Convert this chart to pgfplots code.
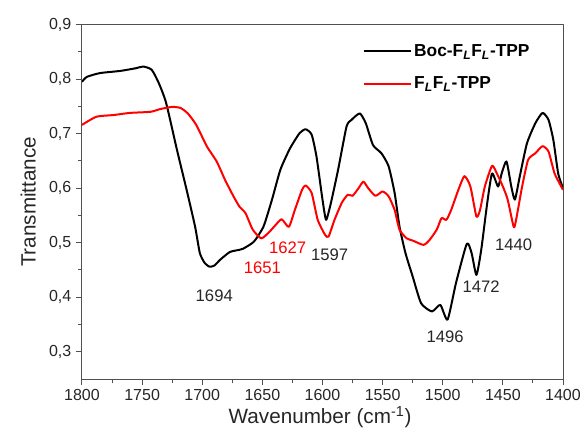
\documentclass[border=0pt]{standalone}
\usepackage{fontspec}
\setmainfont{Liberation Sans}
\usepackage{pgfplots}
\pgfplotsset{compat=1.18}
\definecolor{axgray}{HTML}{505050}
\definecolor{txtgray}{HTML}{262626}
\definecolor{spred}{HTML}{FF0000}
\begin{document}
\begin{tikzpicture}
\begin{axis}[
scale only axis,
width=360.75pt,
height=265.9pt,
xmin=1400, xmax=1800,
ymin=0.25, ymax=0.9,
x dir=reverse,
xtick={1400,1450,...,1800},
ytick={0.3,0.4,...,0.9},
minor x tick num=1,
minor y tick num=1,
tick pos=left,
tick align=outside,
major tick length=4.5pt,
minor tick length=3pt,
every tick/.style={axgray, line width=0.75pt},
axis line style={axgray, line width=0.75pt},
ticklabel style={font=\fontsize{12}{14}\selectfont, text=txtgray},
/pgf/number format/assume math mode=true,
yticklabel style={/pgf/number format/.cd, use comma, fixed, fixed zerofill, precision=1},
xticklabel style={/pgf/number format/.cd, set thousands separator={}},
xlabel={Wavenumber (cm\textsuperscript{-1})},
ylabel={Transmittance},
label style={font=\fontsize{15.5}{18}\selectfont, text=txtgray},
xlabel style={at={(axis description cs:0.495,-0.108)}, anchor=center},
ylabel style={at={(axis description cs:-0.112,0.5)}, anchor=center},
legend style={draw=none, fill=none, at={(axis description cs:0.575,0.96)}, anchor=north west,
  font=\bfseries\fontsize{13}{15}\selectfont, row sep=10pt, cells={anchor=west}},
legend image code/.code={\draw[#1] (0pt,0pt) -- (35pt,0pt);},
line join=round,
]
\addplot[black, line width=1.5pt, smooth, tension=0.35] coordinates {
(1800,0.795) (1796,0.804) (1785,0.811) (1768,0.815) (1755,0.820) (1749,0.823)
(1742,0.817) (1736,0.792) (1730,0.756) (1721,0.670) (1713,0.597) (1706,0.530)
(1702,0.481) (1698,0.463) (1694,0.456) (1690,0.458) (1685,0.469) (1677,0.483)
(1669,0.487) (1666,0.489) (1657,0.502) (1649,0.530) (1642,0.579) (1635,0.634)
(1627,0.673) (1619,0.701) (1614,0.708) (1609,0.698) (1605,0.658) (1600,0.579)
(1597,0.542) (1593,0.573) (1587,0.634) (1580,0.713) (1576,0.725) (1569,0.737)
(1564,0.719) (1558,0.679) (1551,0.664) (1545,0.640) (1540,0.591) (1536,0.530)
(1531,0.481) (1525,0.438) (1518,0.389) (1509,0.374) (1502,0.386) (1496,0.359)
(1489,0.426) (1480,0.498) (1476,0.481) (1472,0.441) (1468,0.487) (1463,0.573)
(1459,0.627) (1454,0.603) (1451,0.627) (1447,0.649) (1443,0.603) (1440,0.579)
(1436,0.621) (1430,0.682) (1423,0.719) (1417,0.738) (1412,0.725) (1408,0.688)
(1404,0.627) (1400,0.600)
};
\addlegendentry{Boc-F\textsubscript{\textit{L}}F\textsubscript{\textit{L}}-TPP}
\addplot[spred, line width=1.5pt, smooth, tension=0.35] coordinates {
(1800,0.716) (1788,0.731) (1774,0.734) (1760,0.738) (1743,0.740) (1735,0.745)
(1725,0.749) (1718,0.747) (1712,0.737) (1705,0.716) (1696,0.676) (1688,0.649)
(1681,0.615) (1674,0.585) (1669,0.566) (1664,0.554) (1658,0.524) (1651,0.508)
(1645,0.518) (1640,0.530) (1634,0.543) (1628,0.529) (1623,0.560) (1617,0.597)
(1614,0.605) (1609,0.591) (1604,0.542) (1598,0.515) (1595,0.511) (1590,0.542)
(1584,0.573) (1579,0.588) (1575,0.586) (1570,0.600) (1566,0.612) (1562,0.600)
(1556,0.586) (1550,0.594) (1545,0.585) (1540,0.560) (1536,0.524) (1530,0.508)
(1525,0.504) (1516,0.496) (1511,0.505) (1505,0.524) (1501,0.545) (1497,0.542)
(1493,0.560) (1487,0.597) (1482,0.622) (1477,0.603) (1472,0.548) (1469,0.560)
(1465,0.603) (1459,0.641) (1455,0.627) (1450,0.603) (1446,0.579) (1441,0.529)
(1439,0.542) (1434,0.603) (1429,0.652) (1423,0.664) (1417,0.677) (1412,0.667)
(1407,0.627) (1400,0.597)
};
\addlegendentry{F\textsubscript{\textit{L}}F\textsubscript{\textit{L}}-TPP}
\begin{scope}[every node/.style={font=\fontsize{12.5}{14}\selectfont, inner sep=0pt}]
\node[text=txtgray] at (axis cs:1690,0.403) {1694};
\node[text=spred] at (axis cs:1650,0.454) {1651};
\node[text=spred] at (axis cs:1629,0.491) {1627};
\node[text=txtgray] at (axis cs:1594,0.478) {1597};
\node[text=txtgray] at (axis cs:1498,0.328) {1496};
\node[text=txtgray] at (axis cs:1468,0.419) {1472};
\node[text=txtgray] at (axis cs:1441,0.496) {1440};
\end{scope}
\end{axis}
\pgfresetboundingbox
\path ([shift={(-61.5pt,-39.75pt)}]current axis.south west) rectangle ([shift={(12.75pt,18.4pt)}]current axis.north east);
\end{tikzpicture}
\end{document}
